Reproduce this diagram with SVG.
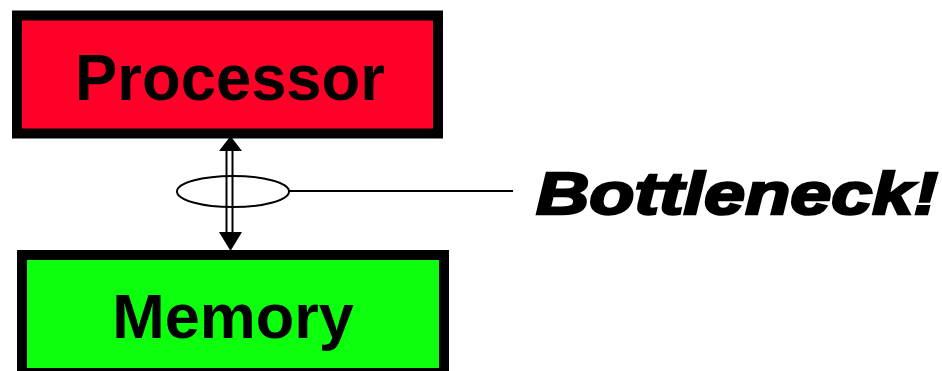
<svg xmlns="http://www.w3.org/2000/svg" width="942" height="371" viewBox="0 0 942 371">
  <style>
    .box { stroke: #000; stroke-width: 10; }
    .label { font-family: "Liberation Sans", Arial, sans-serif; font-weight: bold; fill: #000; text-anchor: middle; }
    .wire { stroke: #000; stroke-width: 2; fill: none; }
  </style>

  <g id="processor">
    <rect class="box" x="17" y="15.5" width="421" height="118" fill="#ff0029"/>
    <text class="label" x="230" y="100" font-size="65" textLength="310" lengthAdjust="spacingAndGlyphs">Processor</text>
  </g>

  <g id="memory">
    <rect class="box" x="22" y="255" width="422" height="118" fill="#0cff0c"/>
    <text class="label" x="233" y="338" font-size="63">Memory</text>
  </g>

  <g id="connectors">
    <!-- double bus line between processor and memory -->
    <line class="wire" x1="226.5" y1="150" x2="226.5" y2="234"/>
    <line class="wire" x1="232.5" y1="150" x2="232.5" y2="234"/>
    <path d="M230.5,136 L242,151 L219,151 Z" fill="#000"/>
    <path d="M230.5,251 L242,232 L219,232 Z" fill="#000"/>
    <!-- callout ellipse and leader -->
    <ellipse class="wire" cx="233" cy="191.5" rx="56" ry="15.5"/>
    <line class="wire" x1="289" y1="191" x2="513" y2="191"/>
  </g>

  <g id="callout">
    <text x="536" y="214" font-family="'Liberation Sans', Arial, sans-serif" font-weight="bold" font-style="italic" font-size="60" fill="#000" stroke="#000" stroke-width="2.5" textLength="402" lengthAdjust="spacingAndGlyphs">Bottleneck!</text>
  </g>
</svg>
